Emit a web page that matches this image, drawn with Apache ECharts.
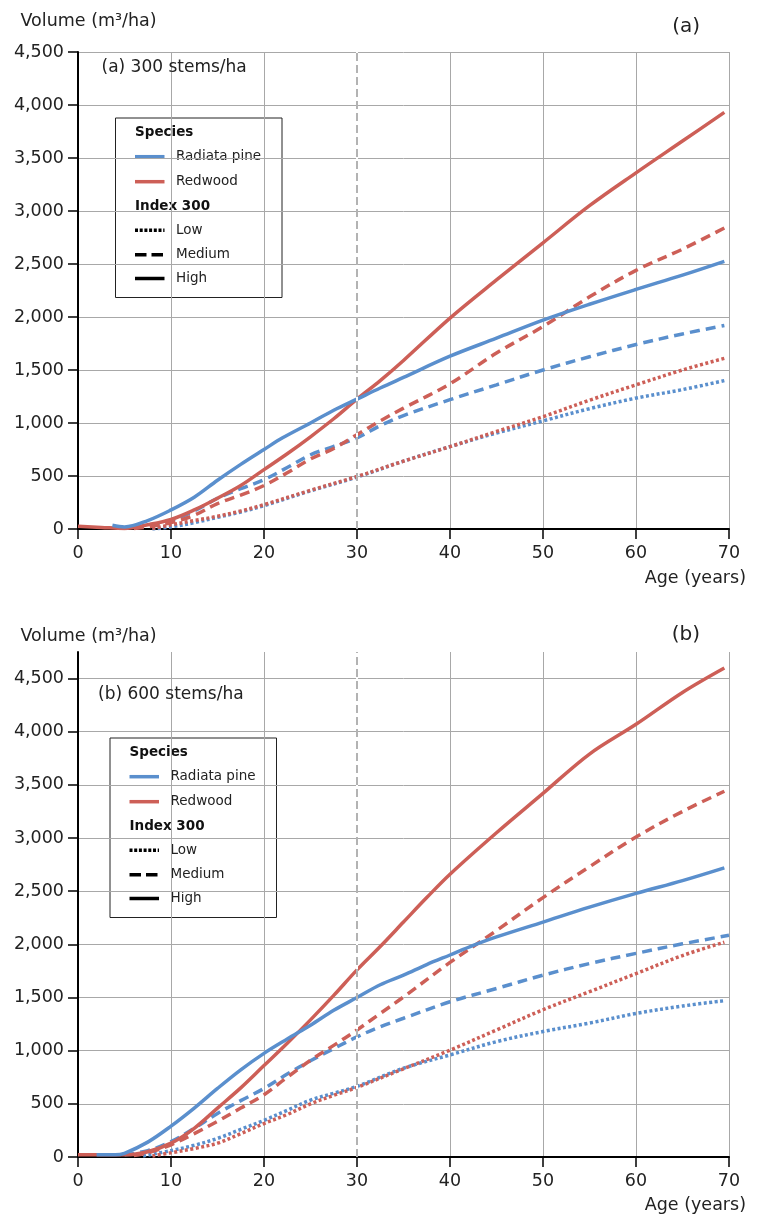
<!DOCTYPE html>
<html>
<head>
<meta charset="utf-8">
<script src="https://cdn.jsdelivr.net/npm/echarts@6/dist/echarts.min.js"></script>
<style>
html,body{margin:0;padding:0;background:#fff;}
#c{width:758px;height:1215px;}
</style>
</head>
<body>
<div id="c"></div>
<script>
// ---------- data ----------
const xTickLabels = [0, 10, 20, 30, 40, 50, 60, 70];
const yTickLabels = [0, 500, 1000, 1500, 2000, 2500, 3000, 3500, 4000, 4500];
const refAge = 30;

// Panel (a) 300 stems/ha
const pineHighA_age = [3.7,5,7.5,10,12.5,15,17.5,20,22,25,27.5,30,32.5,35,40,45,50,55,60,65,69.5];
const pineHighA_vol = [35,20,80,180,300,460,610,750,860,1000,1120,1225,1330,1430,1630,1800,1970,2120,2260,2395,2525];
const redHighA_age = [0,2.5,5,7.5,10,12.5,15,17.5,20,22.5,25,27.5,30,32.5,35,40,45,50,55,60,65,69.5];
const redHighA_vol = [25,15,5,40,90,180,290,410,560,710,870,1040,1225,1400,1590,1990,2350,2700,3050,3360,3660,3930];
const pineMedA_age = [6,7.5,10,12.5,15,17.5,20,22.5,25,27.5,30,32.5,35,40,45,50,55,60,65,69.5];
const pineMedA_vol = [15,30,80,170,290,380,465,580,700,780,860,975,1070,1220,1360,1500,1625,1740,1840,1920];
const redMedA_age = [6,7.5,10,12.5,15,17.5,20,22.5,25,27.5,30,32.5,35,40,45,50,55,60,65,69.5];
const redMedA_vol = [5,20,60,130,240,320,410,530,660,760,890,1020,1140,1370,1660,1910,2190,2440,2640,2840];
const pineLowA_age = [8,10,12.5,15,17.5,20,25,30,35,40,45,50,55,60,65,69.5];
const pineLowA_vol = [0,20,60,110,160,220,360,490,640,777,905,1020,1135,1235,1315,1400];
const redLowA_age = [8,10,12.5,15,17.5,20,25,30,35,40,45,50,55,60,65,69.5];
const redLowA_vol = [5,40,80,120,170,230,365,495,640,777,920,1060,1215,1360,1500,1610];

// Panel (b) 600 stems/ha
const pineHighB_age = [2,4,5,7.5,10,12.5,15,17.5,20,22.5,25,27.5,30,32.5,35,37.5,40,42.5,45,50,55,60,65,69.5];
const pineHighB_vol = [20,20,35,140,290,460,645,820,975,1110,1240,1380,1500,1620,1710,1810,1900,1990,2070,2210,2350,2480,2600,2720];
const redHighB_age = [0,2.5,5,7.5,10,12.5,15,17.5,20,22.5,25,27.5,30,32.5,35,37.5,40,45,50,55,60,65,69.5];
const redHighB_vol = [20,20,20,50,130,270,460,650,860,1070,1290,1520,1760,1980,2210,2440,2660,3050,3420,3790,4070,4370,4600];
const pineMedB_age = [5,7.5,10,12.5,15,17.5,20,22.5,25,27.5,30,32.5,35,40,45,50,55,60,65,70];
const pineMedB_vol = [20,60,145,270,410,530,645,780,905,1020,1130,1225,1305,1460,1585,1710,1820,1915,2005,2085];
const redMedB_age = [6,7.5,10,12.5,15,17.5,20,22.5,25,27.5,30,32.5,35,40,45,50,55,60,65,69.5];
const redMedB_vol = [15,40,115,220,335,460,585,750,910,1050,1195,1350,1505,1830,2130,2440,2730,3010,3250,3440];
const pineLowB_age = [7,10,12.5,15,17.5,20,22.5,25,27.5,30,35,40,45,50,55,60,65,69.5];
const pineLowB_vol = [10,60,110,175,260,345,440,535,600,665,835,960,1085,1180,1260,1350,1420,1470];
const redLowB_age = [8,10,12.5,15,17.5,20,22.5,25,27.5,30,35,40,45,50,55,60,65,69.5];
const redLowB_vol = [10,40,80,130,220,315,400,500,580,655,830,1005,1195,1385,1555,1725,1895,2020];

// ---------- styling ----------
const BLUE = '#5a8fcd';
const RED = '#cd5f57';
const FONT = 'DejaVu Sans';
const DOT = [3, 2.5];
const DASH = [10, 6];

function pairs(a, v) { return a.map((x, i) => [x, v[i]]); }
function mkSeries(name, ages, vols, color, dash, gi) {
  return {
    name: name, type: 'line', xAxisIndex: gi, yAxisIndex: gi,
    data: pairs(ages, vols), showSymbol: false, smooth: 0.35, z: 3,
    lineStyle: { color: color, width: 3.5, type: dash, cap: 'butt' },
    silent: true, animation: false
  };
}
function refSeries(gi) {
  return {
    type: 'line', xAxisIndex: gi, yAxisIndex: gi, data: [], z: 2, silent: true, animation: false,
    markLine: {
      symbol: 'none', silent: true, animation: false, label: { show: false },
      data: [
        { xAxis: refAge, lineStyle: { color: '#ffffff', width: 2, type: 'solid' } },
        { xAxis: refAge, lineStyle: { color: '#9a9a9a', width: 1.5, type: [8, 4] } }
      ]
    }
  };
}
function xAxisCfg(gi) {
  return {
    type: 'value', gridIndex: gi, min: 0, max: 70, interval: 5,
    axisLine: { show: true, lineStyle: { color: '#000', width: 2 } },
    axisTick: { show: true, length: 10, lineStyle: { color: '#000', width: 1.5 }, customValues: xTickLabels },
    axisLabel: { customValues: xTickLabels, margin: 15, fontFamily: FONT, fontSize: 17.5, color: '#222' },
    splitLine: { show: true, lineStyle: { color: '#a8a8a8', width: 1 } }
  };
}
function yAxisCfg(gi, max) {
  return {
    type: 'value', gridIndex: gi, min: 0, max: max, interval: 250,
    axisLine: { show: true, onZero: false, lineStyle: { color: '#000', width: 2 } },
    axisTick: { show: true, length: 10, lineStyle: { color: '#000', width: 1.5 }, customValues: yTickLabels },
    axisLabel: { customValues: yTickLabels, margin: 14, fontFamily: FONT, fontSize: 17.5, color: '#222',
      formatter: v => Number(v).toLocaleString('en-US') },
    splitLine: { show: true, lineStyle: { color: '#a8a8a8', width: 1 } }
  };
}
function legendGroup(left, top) {
  const lx = 19.5, tx = 60.5;
  const rows = [
    { t: 'Species', bold: true, y: 14.7 },
    { t: 'Radiata pine', y: 38.7, color: BLUE, dash: 'solid' },
    { t: 'Redwood', y: 63.7, color: RED, dash: 'solid' },
    { t: 'Index 300', bold: true, y: 88.7 },
    { t: 'Low', y: 112.2, color: '#000', dash: [3, 1.7] },
    { t: 'Medium', y: 136.7, color: '#000', dash: [11.5, 5] },
    { t: 'High', y: 160.5, color: '#000', dash: 'solid' }
  ];
  const children = [{
    type: 'rect', shape: { x: 0, y: 0, width: 166.5, height: 179.5 },
    style: { fill: '#fff', stroke: '#222', lineWidth: 1 }
  }];
  rows.forEach(r => {
    if (r.bold) {
      children.push({ type: 'text', x: lx, y: r.y, style: { text: r.t, fontFamily: FONT, fontSize: 13.5, fontWeight: 'bold', fill: '#111', verticalAlign: 'middle', align: 'left' } });
    } else {
      children.push({ type: 'line', shape: { x1: lx, y1: r.y, x2: lx + 29.5, y2: r.y },
        style: { stroke: r.color, lineWidth: 3.5, lineDash: r.dash === 'solid' ? null : r.dash } });
      children.push({ type: 'text', x: tx, y: r.y, style: { text: r.t, fontFamily: FONT, fontSize: 13.5, fill: '#222', verticalAlign: 'middle', align: 'left' } });
    }
  });
  return { type: 'group', x: left, y: top, z: 100, children: children };
}
function txt(x, y, t, size, align) {
  return { type: 'text', x: x, y: y, z: 100, style: { text: t, fontFamily: FONT, fontSize: size, fill: '#222', align: align || 'left', verticalAlign: 'middle' } };
}

const chart = echarts.init(document.getElementById('c'), null, { renderer: 'canvas' });
chart.setOption({
  animation: false,
  backgroundColor: '#fff',
  grid: [
    { left: 78, top: 52, width: 651, height: 477, containLabel: false, outerBoundsMode: 'none' },
    { left: 78, top: 652, width: 651, height: 505, containLabel: false, outerBoundsMode: 'none' }
  ],
  xAxis: [xAxisCfg(0), xAxisCfg(1)],
  yAxis: [yAxisCfg(0, 4500), yAxisCfg(1, 4750)],
  series: [
    refSeries(0),
    mkSeries('Radiata pine Low', pineLowA_age, pineLowA_vol, BLUE, DOT, 0),
    mkSeries('Redwood Low', redLowA_age, redLowA_vol, RED, DOT, 0),
    mkSeries('Radiata pine Medium', pineMedA_age, pineMedA_vol, BLUE, DASH, 0),
    mkSeries('Redwood Medium', redMedA_age, redMedA_vol, RED, DASH, 0),
    mkSeries('Redwood High', redHighA_age, redHighA_vol, RED, 'solid', 0),
    mkSeries('Radiata pine High', pineHighA_age, pineHighA_vol, BLUE, 'solid', 0),
    refSeries(1),
    mkSeries('Radiata pine Low', pineLowB_age, pineLowB_vol, BLUE, DOT, 1),
    mkSeries('Redwood Low', redLowB_age, redLowB_vol, RED, DOT, 1),
    mkSeries('Radiata pine Medium', pineMedB_age, pineMedB_vol, BLUE, DASH, 1),
    mkSeries('Redwood Medium', redMedB_age, redMedB_vol, RED, DASH, 1),
    mkSeries('Redwood High', redHighB_age, redHighB_vol, RED, 'solid', 1),
    mkSeries('Radiata pine High', pineHighB_age, pineHighB_vol, BLUE, 'solid', 1)
  ],
  graphic: [
    txt(20.5, 21, 'Volume (m³/ha)', 17.5),
    txt(700, 27, '(a)', 20, 'right'),
    txt(101.5, 68, '(a) 300 stems/ha', 17),
    txt(746, 578, 'Age (years)', 17.5, 'right'),
    legendGroup(115.5, 118),
    txt(20.5, 636, 'Volume (m³/ha)', 17.5),
    txt(700, 635, '(b)', 20, 'right'),
    txt(98, 695, '(b) 600 stems/ha', 17),
    txt(746, 1205, 'Age (years)', 17.5, 'right'),
    legendGroup(110, 738)
  ]
});
</script>
</body>
</html>
